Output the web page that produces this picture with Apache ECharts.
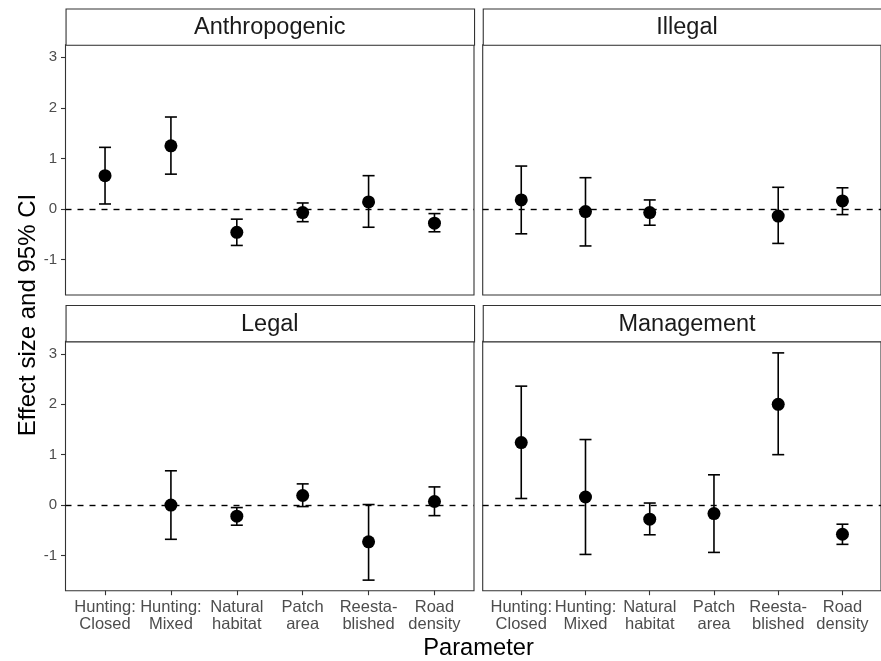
<!DOCTYPE html>
<html>
<head>
<meta charset="utf-8">
<script src="https://cdn.jsdelivr.net/npm/echarts@6/dist/echarts.min.js"></script>
<style>html,body{margin:0;padding:0;background:#fff}#c{width:881px;height:661px}</style>
</head>
<body>
<div id="c"></div>
<script>
const categories = ['Hunting:\nClosed','Hunting:\nMixed','Natural\nhabitat','Patch\narea','Reesta-\nblished','Road\ndensity'];
const panelNames = ['Anthropogenic','Illegal','Legal','Management'];
const yTicks = [-1,0,1,2,3];

const anthropogenicEst  = [0.66, 1.25, -0.46, -0.07, 0.14, -0.28];
const anthropogenicLow  = [0.10, 0.69, -0.72, -0.25, -0.36, -0.45];
const anthropogenicHigh = [1.22, 1.82, -0.20, 0.12, 0.66, -0.09];

const illegalEst  = [0.18, -0.05, -0.07, null, -0.14, 0.16];
const illegalLow  = [-0.49, -0.73, -0.32, null, -0.68, -0.11];
const illegalHigh = [0.85, 0.62, 0.18, null, 0.43, 0.42];

const legalEst  = [null, 0.00, -0.22, 0.19, -0.73, 0.07];
const legalLow  = [null, -0.68, -0.40, -0.03, -1.49, -0.21];
const legalHigh = [null, 0.68, -0.05, 0.42, 0.01, 0.36];

const managementEst  = [1.24, 0.16, -0.28, -0.17, 2.00, -0.58];
const managementLow  = [0.13, -0.98, -0.59, -0.94, 1.00, -0.78];
const managementHigh = [2.36, 1.30, 0.04, 0.60, 3.02, -0.38];

const panelData = [
  [anthropogenicEst, anthropogenicLow, anthropogenicHigh],
  [illegalEst, illegalLow, illegalHigh],
  [legalEst, legalLow, legalHigh],
  [managementEst, managementLow, managementHigh]
];

const FONT = '"Liberation Sans", Arial, Helvetica, sans-serif';
const chart = echarts.init(document.getElementById('c'), null, {renderer:'canvas'});

const layout = [
  {left:65.5, top:44.7, width:408.5, height:250.3},
  {left:482.7, top:44.7, width:409, height:250.3},
  {left:65.5, top:341.3, width:408.5, height:249.4},
  {left:482.7, top:341.3, width:409, height:249.4}
];

const grids = [], xAxes = [], yAxes = [], series = [], graphics = [];
layout.forEach((g, i) => {
  grids.push({left:g.left, top:g.top, width:g.width, height:g.height, show:true,
    borderColor:'#333333', borderWidth:1.1, backgroundColor:'#ffffff', containLabel:false});
  const bottomRow = i >= 2, leftCol = i % 2 === 0;
  xAxes.push({type:'value', gridIndex:i, min:0.4, max:6.6, position:'bottom',
    splitLine:{show:false}, axisLine:{show:false, onZero:false},
    axisTick:{show:bottomRow, customValues:[1,2,3,4,5,6], length:4.5, lineStyle:{color:'#333333', width:1.1}},
    axisLabel:{show:bottomRow, customValues:[1,2,3,4,5,6], margin:8,
      formatter:v => categories[Math.round(v)-1] || '',
      color:'#4D4D4D', fontSize:16.5, fontFamily:FONT, lineHeight:17.5}
  });
  yAxes.push({type:'value', gridIndex:i, min:-1.7, max:3.25, position:'left',
    splitLine:{show:false}, axisLine:{show:false, onZero:false},
    axisTick:{show:leftCol, customValues:yTicks, length:4.5, lineStyle:{color:'#333333', width:1.1}},
    axisLabel:{show:leftCol, customValues:yTicks, margin:8.5, color:'#4D4D4D', fontSize:15, fontFamily:FONT}
  });
  const [est, low, high] = panelData[i];
  const errData = [], ptData = [];
  est.forEach((e, k) => {
    if (e === null) return;
    errData.push([k+1, low[k], high[k]]);
    ptData.push([k+1, e]);
  });
  series.push({type:'custom', xAxisIndex:i, yAxisIndex:i, data:errData, silent:true, z:2,
    renderItem:(params, api) => {
      const x = api.value(0);
      const p1 = api.coord([x, api.value(1)]);
      const p2 = api.coord([x, api.value(2)]);
      const w = 6;
      const st = {stroke:'#000', lineWidth:1.6, fill:null};
      return {type:'group', children:[
        {type:'line', shape:{x1:p1[0], y1:p1[1], x2:p2[0], y2:p2[1]}, style:st},
        {type:'line', shape:{x1:p1[0]-w, y1:p1[1], x2:p1[0]+w, y2:p1[1]}, style:st},
        {type:'line', shape:{x1:p2[0]-w, y1:p2[1], x2:p2[0]+w, y2:p2[1]}, style:st}
      ]};
    }
  });
  series.push({type:'scatter', xAxisIndex:i, yAxisIndex:i, data:ptData, symbol:'circle', symbolSize:13,
    itemStyle:{color:'#000', opacity:1}, silent:true, z:3,
    markLine:{silent:true, symbol:'none', label:{show:false}, z:1,
      lineStyle:{color:'#000', type:[6,6], width:1.4}, data:[{yAxis:0}]}
  });
  // strip
  graphics.push({type:'rect', left:g.left, top:g.top-36.3, z:10,
    shape:{x:0, y:0, width:g.width, height:36.3},
    style:{fill:'#ffffff', stroke:'#333333', lineWidth:1.1}});
  graphics.push({type:'text', z:11,
    x: g.left + 204.3, y: g.top - 17,
    style:{text:panelNames[i], fill:'#1A1A1A', font:'23.5px ' + FONT, align:'center', verticalAlign:'middle'}});
});

graphics.push({type:'text', z:11, x:28, y:315, rotation:Math.PI/2,
  style:{text:'Effect size and 95% CI', fill:'#000', font:'24px ' + FONT, align:'center', verticalAlign:'middle'}});
graphics.push({type:'text', z:11, x:478.5, y:648,
  style:{text:'Parameter', fill:'#000', font:'23.7px ' + FONT, align:'center', verticalAlign:'middle'}});

chart.setOption({
  animation:false,
  backgroundColor:'#ffffff',
  grid:grids, xAxis:xAxes, yAxis:yAxes, series:series, graphic:graphics
});
</script>
</body>
</html>
